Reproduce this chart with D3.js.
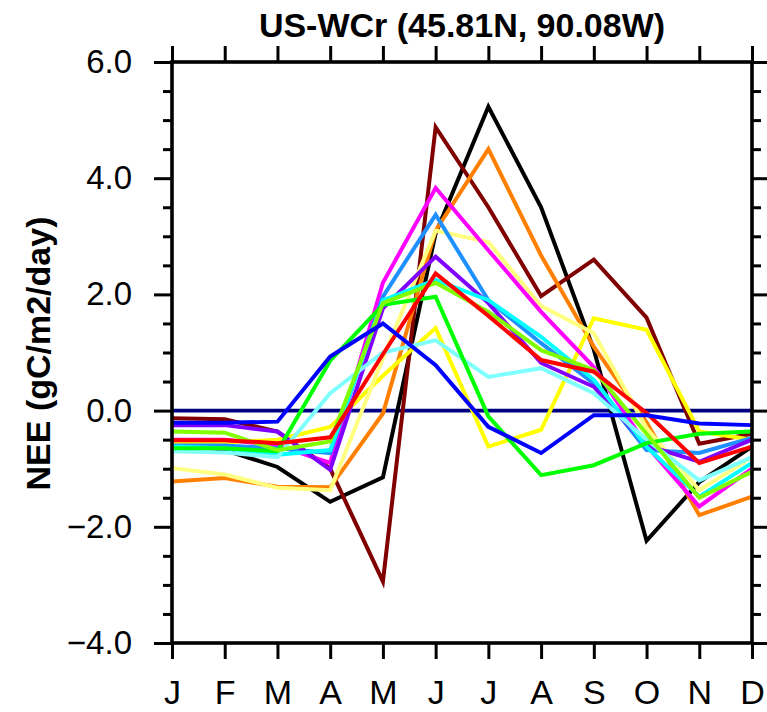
<!DOCTYPE html>
<html>
<head>
<meta charset="utf-8">
<script src="https://cdn.jsdelivr.net/npm/d3@7"></script>
<style>
  html, body { margin: 0; padding: 0; background: #fff; }
  svg { display: block; font-family: "Liberation Sans", Arial, Helvetica, sans-serif; }
</style>
</head>
<body>
<svg id="chart" width="767" height="712"></svg>
<script>
// Monthly mean NEE at US-WCr, one line per model / data source
const months = ["J", "F", "M", "A", "M", "J", "J", "A", "S", "O", "N", "D"];
const yTicks = [-4, -2, 0, 2, 4, 6];

const seriesNames = ["black", "brown", "orange", "yellow", "lightyellow", "magenta",
  "dodgerblue", "purple", "cyan", "lightcyan", "green", "chartreuse", "red", "blue"];
const seriesColors = ["#000000", "#800000", "#FF8000", "#FFFF00", "#FFFF80", "#FF00FF",
  "#1E90FF", "#8000FF", "#00FFFF", "#80FFFF", "#00FF00", "#80FF00", "#FF0000", "#0000FF"];

const black       = [-0.56, -0.68, -0.97, -1.57, -1.15, 3.05, 5.23, 3.50, 1.05, -2.24, -1.23, -0.62];
const brown       = [-0.13, -0.15, -0.36, -1.00, -2.94, 4.88, 3.50, 1.97, 2.60, 1.60, -0.57, -0.40];
const orange      = [-1.22, -1.16, -1.31, -1.32, -0.05, 3.10, 4.50, 2.67, 1.10, -0.20, -1.80, -1.48];
const yellow      = [-0.55, -0.55, -0.50, -0.28, 0.60, 1.42, -0.62, -0.33, 1.59, 1.39, -0.36, -0.50];
const lightyellow = [-0.99, -1.10, -1.33, -1.37, 0.90, 3.10, 2.90, 1.80, 1.33, -0.30, -1.37, -0.80];
const magenta     = [-0.50, -0.50, -0.60, -0.90, 2.20, 3.83, 2.76, 1.70, 0.75, -0.60, -1.65, -1.00];
const dodgerblue  = [-0.60, -0.60, -0.65, -0.73, 1.96, 3.37, 1.90, 1.16, 0.47, -0.68, -0.73, -0.47];
const purple      = [-0.25, -0.25, -0.36, -1.02, 1.76, 2.65, 1.85, 0.82, 0.41, -0.60, -0.88, -0.50];
const cyan        = [-0.62, -0.65, -0.76, -0.68, 1.90, 2.25, 1.90, 1.27, 0.53, -0.62, -1.48, -0.90];
const lightcyan   = [-0.70, -0.72, -0.80, 0.30, 1.00, 1.21, 0.58, 0.73, 0.30, -0.50, -1.20, -0.80];
const green       = [-0.65, -0.65, -0.70, 0.86, 1.82, 1.96, -0.10, -1.11, -0.94, -0.56, -0.40, -0.36];
const chartreuse  = [-0.36, -0.38, -0.68, -0.53, 1.85, 2.20, 1.70, 1.04, 0.70, -0.40, -1.50, -1.05];
const red         = [-0.51, -0.51, -0.56, -0.46, 0.97, 2.36, 1.63, 0.87, 0.67, -0.04, -0.90, -0.62];
const blue        = [-0.21, -0.21, -0.19, 0.93, 1.50, 0.78, -0.28, -0.73, -0.08, -0.08, -0.22, -0.25];

const seriesValues = [black, brown, orange, yellow, lightyellow, magenta, dodgerblue,
  purple, cyan, lightcyan, green, chartreuse, red, blue];

const titleText = "US-WCr (45.81N, 90.08W)";
const yTitleText = "NEE (gC/m2/day)";

// ---- layout ----
const svg = d3.select("#chart");
const margin = { left: 172, right: 15, top: 62, bottom: 69 };
const W = 767, H = 712;
const x0 = margin.left, x1 = W - margin.right;
const y0 = margin.top, y1 = H - margin.bottom;

const x = d3.scalePoint().domain(d3.range(months.length)).range([x0, x1]);
const y = d3.scaleLinear().domain([-4, 6]).range([y1, y0]);

const minorTicks = d3.range(-4, 6.0001, 0.5).filter(v => Math.abs(v / 2 - Math.round(v / 2)) > 1e-6);

// zero reference line
svg.append("line")
  .attr("x1", x0).attr("x2", x1)
  .attr("y1", y(0)).attr("y2", y(0))
  .attr("stroke", "#000080").attr("stroke-width", 3.6);

// data lines
const line = d3.line().x((d, i) => x(i)).y(d => y(d));
const plot = svg.append("g");
seriesValues.forEach((vals, k) => {
  plot.append("path")
    .datum(vals)
    .attr("d", line)
    .attr("fill", "none")
    .attr("stroke", seriesColors[k])
    .attr("stroke-width", 4)
    .attr("stroke-linejoin", "miter");
});

// axes (outward ticks on all four sides)
const fmt = d3.format(".1f");
const axisStyle = g => {
  g.select(".domain").remove();
  g.selectAll(".tick line").attr("stroke", "#000").attr("stroke-width", 3);
  g.selectAll("text").attr("fill", "#000");
};

// left: major with labels
svg.append("g")
  .attr("transform", `translate(${x0},0)`)
  .call(d3.axisLeft(y).tickValues(yTicks).tickFormat(fmt).tickSize(18).tickPadding(22))
  .call(axisStyle)
  .call(g => g.selectAll("text").attr("font-size", 33).attr("font-family", "Liberation Sans, Arial, sans-serif"));
svg.append("g")
  .attr("transform", `translate(${x0},0)`)
  .call(d3.axisLeft(y).tickValues(minorTicks).tickFormat("").tickSize(9))
  .call(axisStyle);

// right: major and minor, no labels
svg.append("g")
  .attr("transform", `translate(${x1},0)`)
  .call(d3.axisRight(y).tickValues(yTicks).tickFormat("").tickSize(18))
  .call(axisStyle);
svg.append("g")
  .attr("transform", `translate(${x1},0)`)
  .call(d3.axisRight(y).tickValues(minorTicks).tickFormat("").tickSize(9))
  .call(axisStyle);

// bottom: month labels
svg.append("g")
  .attr("transform", `translate(0,${y1})`)
  .call(d3.axisBottom(x).tickFormat(i => months[i]).tickSize(16).tickPadding(21))
  .call(axisStyle)
  .call(g => g.selectAll("text").attr("font-size", 34).attr("font-family", "Liberation Sans, Arial, sans-serif"));

// top: ticks only
svg.append("g")
  .attr("transform", `translate(0,${y0})`)
  .call(d3.axisTop(x).tickFormat("").tickSize(16))
  .call(axisStyle);

// frame
svg.append("rect")
  .attr("x", x0).attr("y", y0)
  .attr("width", x1 - x0).attr("height", y1 - y0)
  .attr("fill", "none").attr("stroke", "#000").attr("stroke-width", 3.6);

// title
svg.append("text")
  .attr("x", (x0 + x1) / 2).attr("y", 37)
  .attr("text-anchor", "middle")
  .attr("font-size", 34).attr("font-weight", "bold")
  .text(titleText);

// y-axis title
svg.append("text")
  .attr("transform", `translate(50,${(y0 + y1) / 2 + 1}) rotate(-90)`)
  .attr("text-anchor", "middle")
  .attr("font-size", 34).attr("font-weight", "bold")
  .text(yTitleText);
</script>
</body>
</html>
